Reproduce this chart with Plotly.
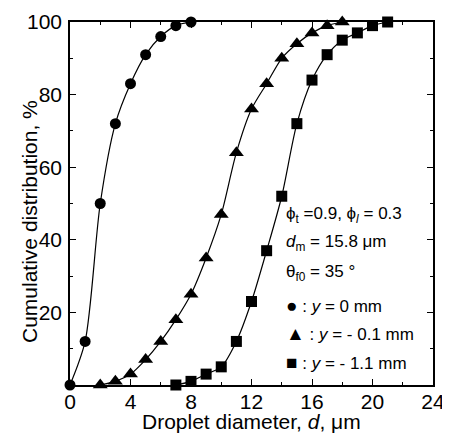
import plotly.graph_objects as go

x_circ = [0, 1, 2, 3, 4, 5, 6, 7, 8]
y_circ = [0, 12, 50, 72, 83, 91, 96, 99, 100]
x_tri = [2, 3, 4, 5, 6, 7, 8, 9, 10, 11, 12, 13, 14, 15, 16, 17, 18]
y_tri = [0, 1, 3, 7, 12, 18, 25, 35, 47, 64, 76, 83, 90, 94, 97, 99, 100]
x_sq = [7, 8, 9, 10, 11, 12, 13, 14, 15, 16, 17, 18, 19, 20, 21]
y_sq = [0, 1, 3, 5, 12, 23, 37, 52, 72, 84, 91, 95, 97, 99, 100]

x_ticks = [0, 4, 8, 12, 16, 20, 24]
y_ticks = [20, 40, 60, 80, 100]

FONT = "Liberation Sans, Arial, sans-serif"
OFF = 8  # page body margin in the browser
L, R, T, B = 70 - OFF, 433 - OFF, 22 - OFF, 385 - OFF
W, H = 450 - OFF, 434 - OFF

def px(xp):
    return (xp - OFF - L) / (R - L)

def py(yp):
    return (B - (yp - OFF)) / (B - T)

fig = go.Figure()
for xs, ys, sym, sz in [(x_circ, y_circ, "circle", 11), (x_tri, y_tri, "triangle-up", 13), (x_sq, y_sq, "square", 11)]:
    fig.add_trace(go.Scatter(
        x=xs, y=ys, mode="lines+markers",
        line=dict(color="black", width=1.2, shape="spline", smoothing=0.8),
        marker=dict(symbol=sym, size=sz, color="black"),
        cliponaxis=False, showlegend=False))

axis_common = dict(
    showline=True, linecolor="black", linewidth=1.5, mirror="allticks",
    ticks="inside", ticklen=6, tickwidth=1.2, tickcolor="black",
    showgrid=False, zeroline=False, automargin=False,
    tickfont=dict(family=FONT, size=21, color="black"),
)

fig.update_xaxes(range=[0, 24], tickvals=x_ticks, ticktext=[str(v) for v in x_ticks],
                 minor=dict(ticks="inside", ticklen=3, tickwidth=1, tickcolor="black", dtick=2, tick0=0),
                 ticklabelstandoff=-3,
                 **axis_common)
fig.update_yaxes(range=[0, 100], tickvals=y_ticks, ticktext=[str(v) for v in y_ticks],
                 minor=dict(ticks="inside", ticklen=3, tickwidth=1, tickcolor="black", dtick=10, tick0=0),
                 ticklabelstandoff=2,
                 **axis_common)

# axis titles
fig.add_annotation(text="Droplet diameter, <i>d</i>, μm", xref="paper", yref="paper",
                   x=px(252), y=py(421), xanchor="center", yanchor="middle", showarrow=False,
                   font=dict(family=FONT, size=21, color="black"))
fig.add_annotation(text="Cumulative distribution, %", xref="paper", yref="paper",
                   x=px(29), y=py(222), xanchor="center", yanchor="middle", showarrow=False,
                   textangle=-90, font=dict(family=FONT, size=21, color="black"))

sym = lambda s: "<span style='font-size:19px'>" + s + "</span>"
lines = [
    "ϕ<sub>t</sub> =0.9, ϕ<sub><i>l</i></sub> = 0.3",
    "<i>d</i><sub>m</sub> = 15.8 μm",
    "θ<sub>f0</sub> = 35 °",
    sym("●") + " : <i>y</i> = 0 mm",
    sym("▲") + " : <i>y</i> = - 0.1 mm",
    sym("■") + " : <i>y</i> = - 1.1 mm",
]
ypos = [215, 243, 273, 305, 333, 362]
for t, yp in zip(lines, ypos):
    fig.add_annotation(text=t, xref="paper", yref="paper",
                       x=px(284), y=py(yp),
                       xanchor="left", yanchor="middle", showarrow=False,
                       font=dict(family=FONT, size=17, color="black"))

fig.update_layout(
    width=W, height=H,
    margin=dict(l=L, r=W - R, t=T, b=H - B, autoexpand=False),
    paper_bgcolor="white", plot_bgcolor="white",
)
fig.write_html("out.html")
